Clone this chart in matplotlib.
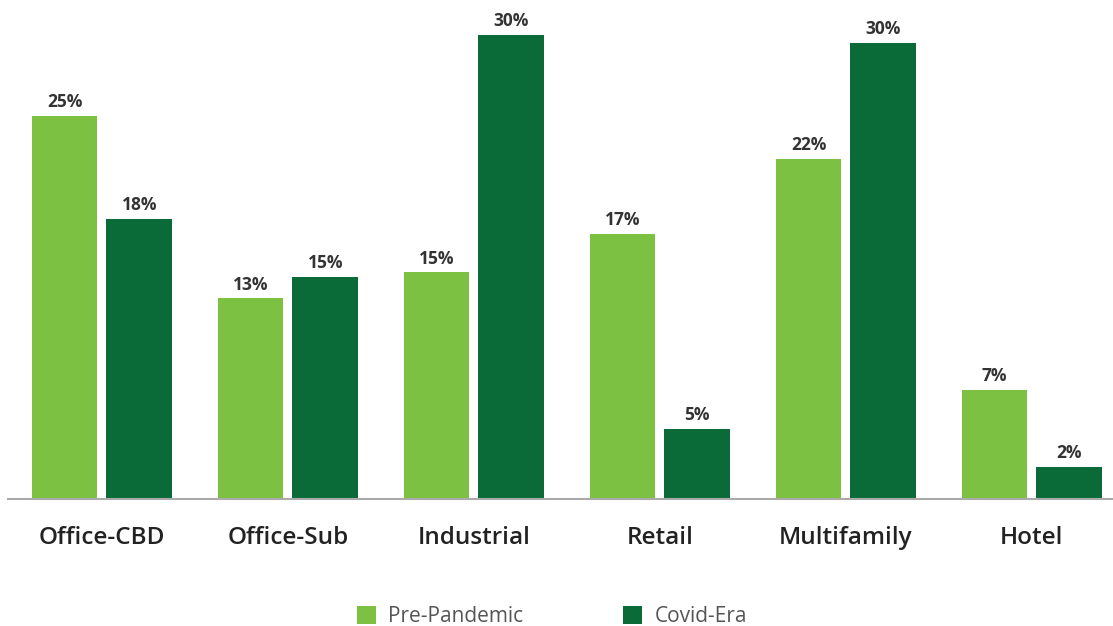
import numpy as np
import matplotlib.pyplot as plt

# data (bar heights estimated from pixels, labels as printed)
categories = ['Office-CBD', 'Office-Sub', 'Industrial', 'Retail', 'Multifamily', 'Hotel']
pre_pandemic = [25.0, 13.1, 14.8, 17.3, 22.2, 7.1]
covid_era = [18.3, 14.5, 30.3, 4.6, 29.8, 2.1]
pre_labels = [25, 13, 15, 17, 22, 7]
covid_labels = [18, 15, 30, 5, 30, 2]

light = '#7dc142'
dark = '#0a6b38'

plt.rcParams['font.family'] = ['Open Sans', 'DejaVu Sans']

fig = plt.figure(figsize=(11.13, 6.26), dpi=100)
ax = fig.add_axes([0.0, 0.2030, 1.0, 0.7970])

x = np.arange(len(categories))
w = 0.353
gap = 0.048
b1 = ax.bar(x - (w + gap) / 2, pre_pandemic, w, color=light, label='Pre-Pandemic')
b2 = ax.bar(x + (w + gap) / 2, covid_era, w, color=dark, label='Covid-Era')

for bars, labs in ((b1, pre_labels), (b2, covid_labels)):
    for rect, lab in zip(bars, labs):
        ax.annotate(f'{lab}%', (rect.get_x() + rect.get_width() / 2, rect.get_height()),
                    xytext=(0, 3.5), textcoords='offset points', ha='center', va='bottom',
                    fontsize=12.5, fontweight='bold', color='#333333')

ax.set_xlim(-0.548, 5.436)
ax.set_ylim(0, 32.6)
ax.set_xticks(x)
ax.set_xticklabels(categories, fontsize=17.5, fontweight='semibold', color='#222222')
ax.tick_params(axis='x', length=0, pad=19.5)
ax.set_yticks([])
for s in ['top', 'right', 'left']:
    ax.spines[s].set_visible(False)
ax.spines['bottom'].set_color('#aaaaaa')
ax.spines['bottom'].set_linewidth(1.5)
ax.spines['bottom'].set_bounds(-0.505, 5.436)

fig.legend(handles=[b1, b2], loc='center', bbox_to_anchor=(0.496, 0.015), ncol=2,
           frameon=False, fontsize=15, handlelength=0.9, handleheight=0.9,
           columnspacing=4.8, handletextpad=0.6, labelcolor='#555555')

fig.savefig('out.png', dpi=100)
